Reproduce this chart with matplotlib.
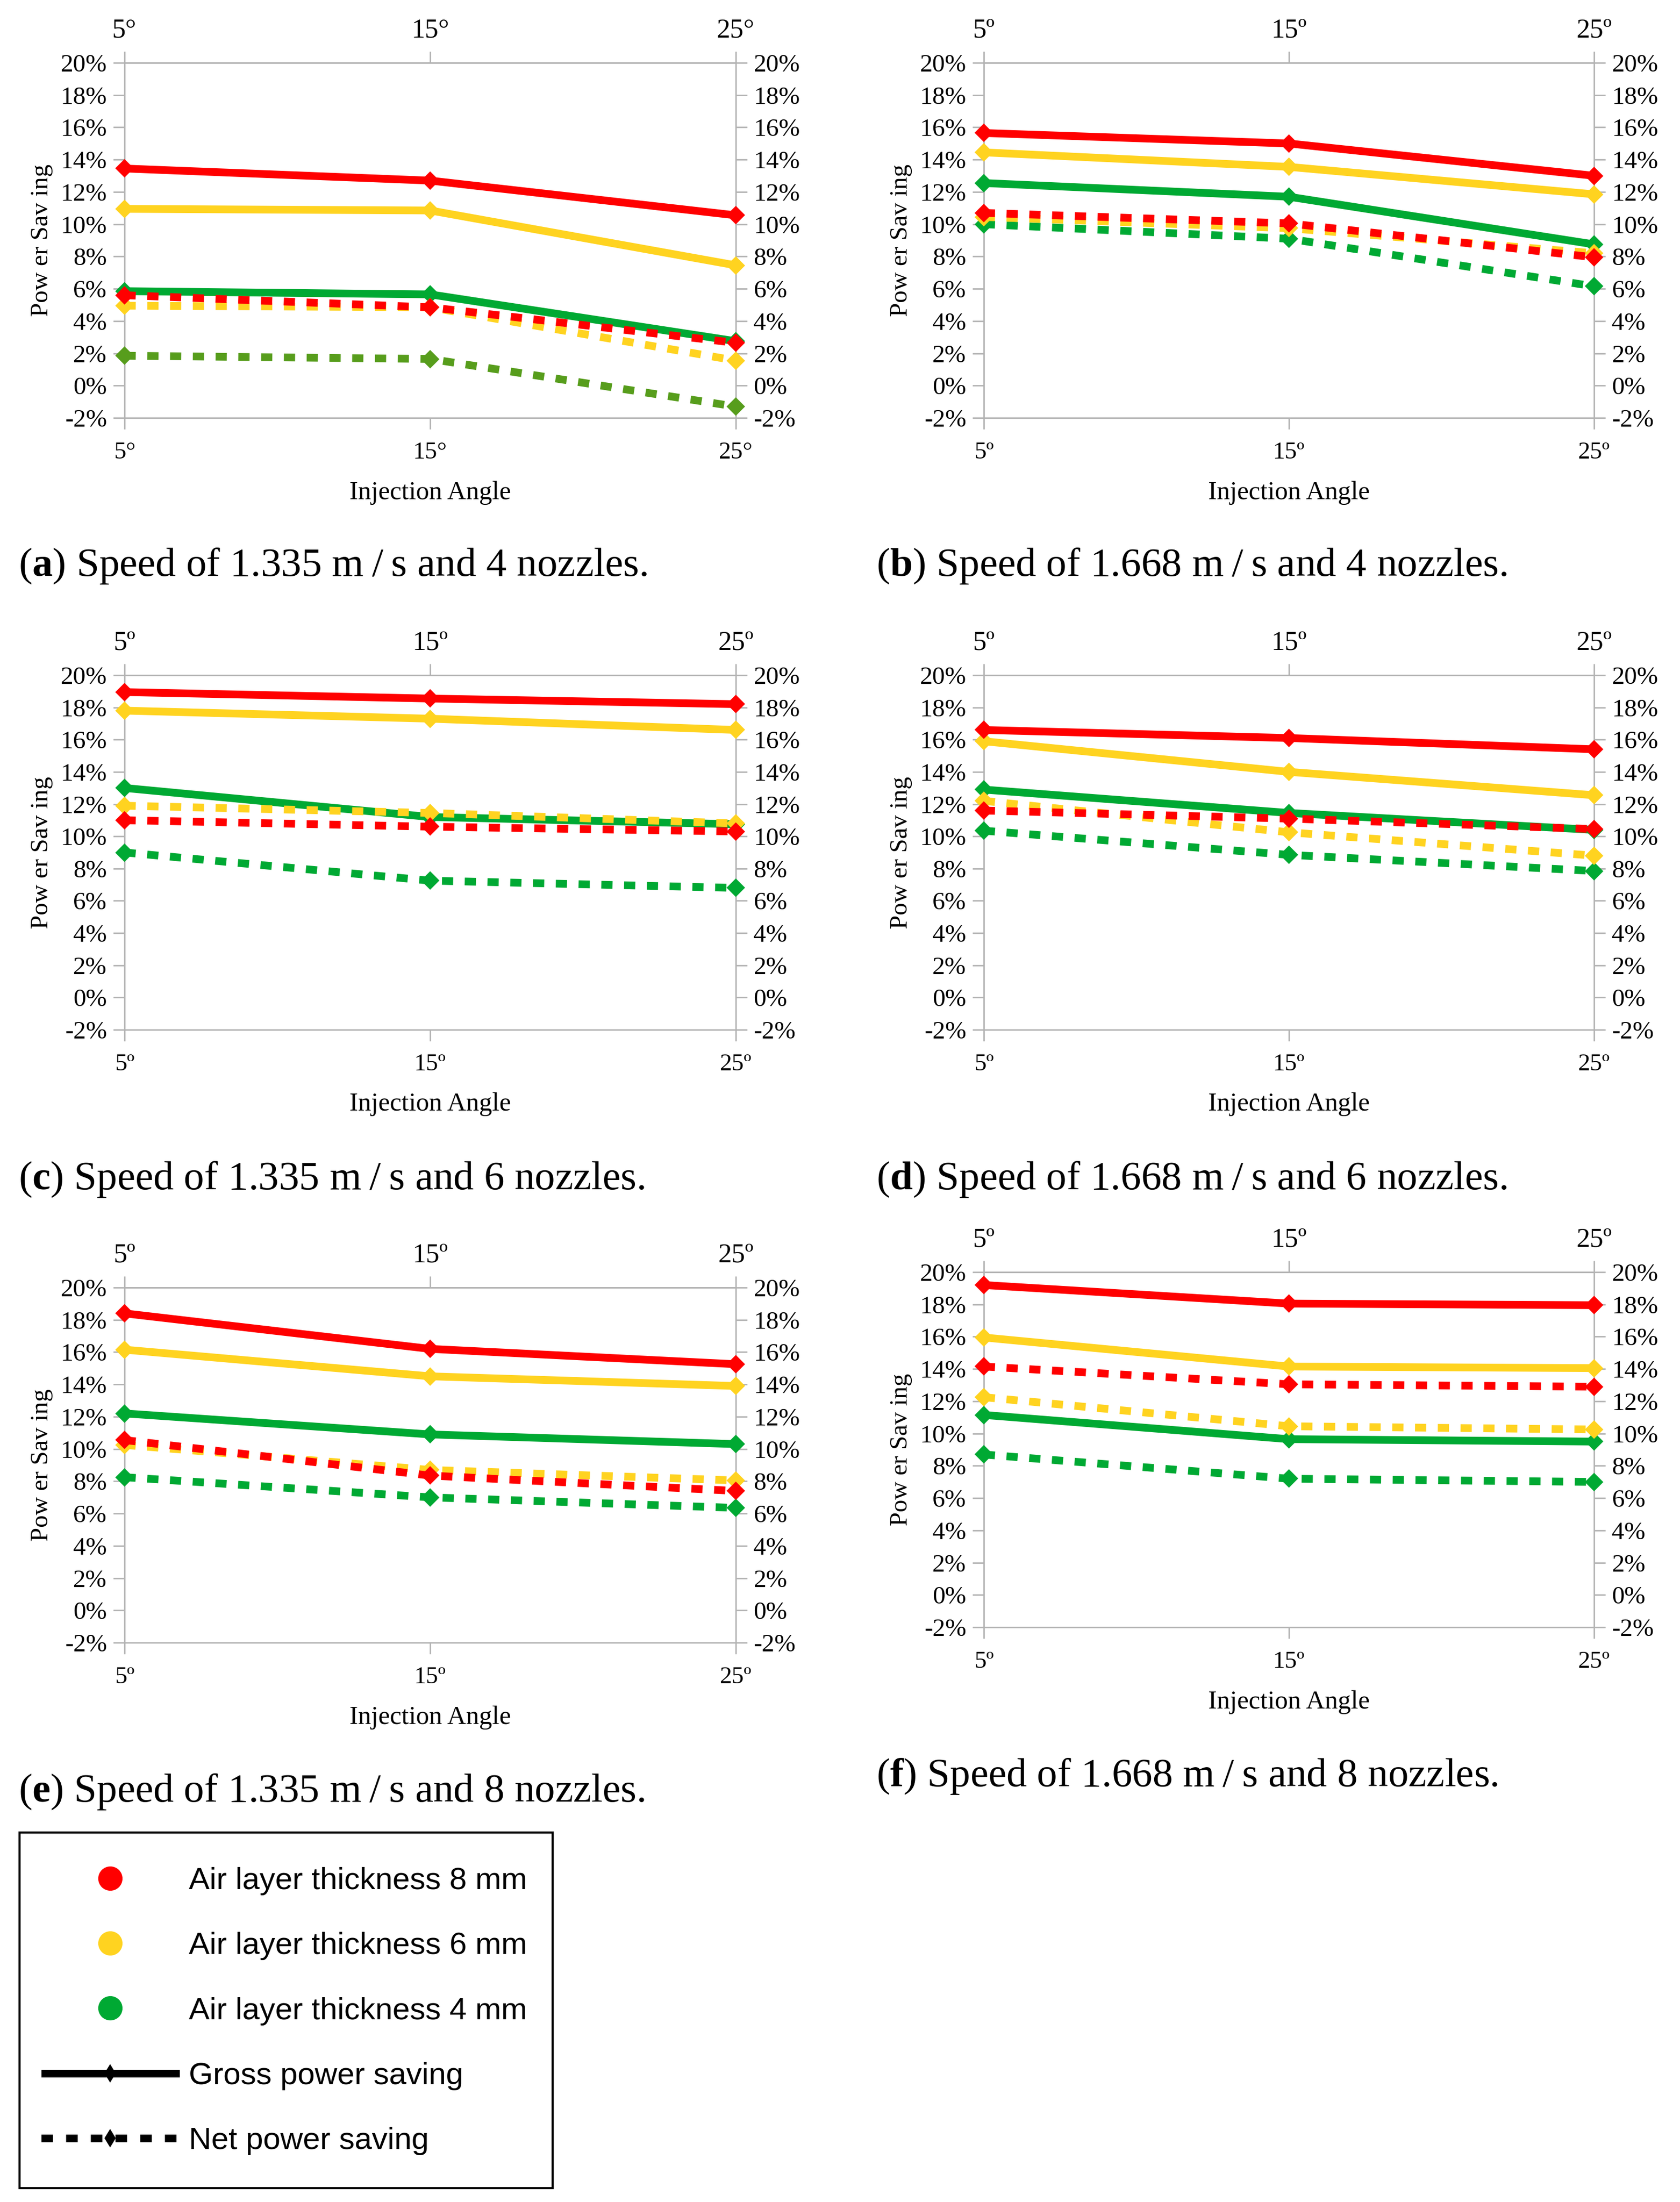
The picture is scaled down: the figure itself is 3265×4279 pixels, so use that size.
import matplotlib
matplotlib.use('Agg')
import matplotlib.pyplot as plt
from matplotlib.lines import Line2D
from matplotlib.patches import Rectangle

# ---------------- data ----------------
angles = [5, 15, 25]
ytick_values = [-2, 0, 2, 4, 6, 8, 10, 12, 14, 16, 18, 20]
ytick_labels = ['-2%', '0%', '2%', '4%', '6%', '8%', '10%', '12%', '14%', '16%', '18%', '20%']
xtick_labels_deg = ['5°', '15°', '25°']
xtick_labels_ord = ['5º', '15º', '25º']

# (a) 1.335 m/s, 4 nozzles
a_gross_8 = [13.45, 12.70, 10.55]
a_gross_6 = [10.95, 10.85, 7.45]
a_gross_4 = [5.85, 5.65, 2.75]
a_net_8 = [5.60, 4.85, 2.65]
a_net_6 = [4.95, 4.85, 1.55]
a_net_4 = [1.85, 1.65, -1.30]
# (b) 1.668 m/s, 4 nozzles
b_gross_8 = [15.65, 15.00, 13.00]
b_gross_6 = [14.45, 13.55, 11.85]
b_gross_4 = [12.55, 11.70, 8.75]
b_net_8 = [10.70, 10.05, 7.95]
b_net_6 = [10.45, 9.75, 8.20]
b_net_4 = [10.00, 9.10, 6.15]
# (c) 1.335 m/s, 6 nozzles
c_gross_8 = [18.95, 18.55, 18.20]
c_gross_6 = [17.80, 17.30, 16.60]
c_gross_4 = [13.00, 11.20, 10.75]
c_net_8 = [11.00, 10.60, 10.30]
c_net_6 = [11.90, 11.45, 10.80]
c_net_4 = [9.00, 7.25, 6.80]
# (d) 1.668 m/s, 6 nozzles
d_gross_8 = [16.60, 16.10, 15.40]
d_gross_6 = [15.90, 14.00, 12.55]
d_gross_4 = [12.90, 11.45, 10.40]
d_net_8 = [11.60, 11.10, 10.45]
d_net_6 = [12.20, 10.25, 8.80]
d_net_4 = [10.35, 8.85, 7.85]
# (e) 1.335 m/s, 8 nozzles
e_gross_8 = [18.40, 16.20, 15.25]
e_gross_6 = [16.15, 14.50, 13.90]
e_gross_4 = [12.20, 10.90, 10.30]
e_net_8 = [10.55, 8.35, 7.40]
e_net_6 = [10.25, 8.70, 8.05]
e_net_4 = [8.25, 7.00, 6.35]
# (f) 1.668 m/s, 8 nozzles
f_gross_8 = [19.20, 18.05, 17.95]
f_gross_6 = [15.95, 14.15, 14.05]
f_gross_4 = [11.15, 9.65, 9.50]
f_net_8 = [14.15, 13.05, 12.90]
f_net_6 = [12.25, 10.45, 10.25]
f_net_4 = [8.70, 7.20, 7.00]

panel_letters = ['a', 'b', 'c', 'd', 'e', 'f']
panel_speeds = ['1.335', '1.668', '1.335', '1.668', '1.335', '1.668']
panel_nozzles = ['4', '4', '6', '6', '8', '8']
legend_labels = ['Air layer thickness 8 mm', 'Air layer thickness 6 mm',
                 'Air layer thickness 4 mm', 'Gross power saving', 'Net power saving']
ylabel_text = 'Pow er Sav ing'
xlabel_text = 'Injection Angle'

# ---------------- style ----------------
W, H, DPI = 3266, 4279, 100
RED, YEL, GRN, OLIVE = '#FF0000', '#FFD320', '#00A933', '#579D1C'
GRAY = '#B3B3B3'
LW = 10.8           # ~15 px
MS = 18
DASH = (0, (1.45, 1.5))
TL, TW = 15.8, 2.0

plt.rcParams['font.family'] = ['Liberation Serif', 'DejaVu Serif']
plt.rcParams['mathtext.fontset'] = 'custom'
plt.rcParams['mathtext.rm'] = 'Liberation Serif'
plt.rcParams['mathtext.bf'] = 'Liberation Serif:bold'

fig = plt.figure(figsize=(W / DPI, H / DPI), dpi=DPI, facecolor='white')


def rect(x0, x1, yt, yb):
    return [x0 / W, 1 - yb / H, (x1 - x0) / W, (yb - yt) / H]


panels = [
    dict(box=(242, 1430, 122, 812), cap=(36, 1119), deg=xtick_labels_deg,
         gross=(a_gross_4, a_gross_6, a_gross_8), net=(a_net_4, a_net_6, a_net_8), net4=OLIVE),
    dict(box=(1912, 3098, 122, 812), cap=(1703, 1119), deg=xtick_labels_ord,
         gross=(b_gross_4, b_gross_6, b_gross_8), net=(b_net_4, b_net_6, b_net_8), net4=GRN),
    dict(box=(242, 1430, 1312, 2001), cap=(36, 2311), deg=xtick_labels_ord,
         gross=(c_gross_4, c_gross_6, c_gross_8), net=(c_net_4, c_net_6, c_net_8), net4=GRN),
    dict(box=(1912, 3098, 1312, 2001), cap=(1703, 2311), deg=xtick_labels_ord,
         gross=(d_gross_4, d_gross_6, d_gross_8), net=(d_net_4, d_net_6, d_net_8), net4=GRN),
    dict(box=(242, 1430, 2502, 3192), cap=(36, 3501), deg=xtick_labels_ord,
         gross=(e_gross_4, e_gross_6, e_gross_8), net=(e_net_4, e_net_6, e_net_8), net4=GRN),
    dict(box=(1912, 3098, 2472, 3162), cap=(1703, 3471), deg=xtick_labels_ord,
         gross=(f_gross_4, f_gross_6, f_gross_8), net=(f_net_4, f_net_6, f_net_8), net4=GRN),
]

for i, p in enumerate(panels):
    ax = fig.add_axes(rect(*p['box']))
    z = 3
    for vals, col in zip(p['gross'], (GRN, YEL, RED)):
        ax.plot(angles, vals, color=col, lw=LW, ls='-', marker='D', ms=MS, mew=0,
                clip_on=False, solid_capstyle='butt', zorder=z)
        z += 1
    for vals, col in zip(p['net'], (p['net4'], YEL, RED)):
        ax.plot(angles, vals, color=col, lw=LW, ls=DASH, marker='D', ms=MS, mew=0,
                clip_on=False, dash_capstyle='butt', zorder=z)
        z += 1

    ax.set_xlim(5, 25)
    ax.set_ylim(-2, 20)
    ax.set_yticks(ytick_values, ytick_labels)
    ax.set_xticks(angles, p['deg'])
    for s in ax.spines.values():
        s.set_color(GRAY)
        s.set_linewidth(TW)
    ax.tick_params(axis='y', direction='out', length=TL, width=TW, color=GRAY,
                   left=True, right=True, labelleft=True, labelright=True,
                   pad=9, labelsize=35.5)
    ax.tick_params(axis='x', direction='out', length=TL, width=TW, color=GRAY,
                   bottom=True, top=False, labelbottom=True, pad=18, labelsize=34)
    sec = ax.secondary_xaxis('top')
    sec.set_xticks(angles, p['deg'])
    sec.spines['top'].set_color(GRAY)
    sec.spines['top'].set_linewidth(TW)
    sec.tick_params(axis='x', direction='out', length=TL, width=TW, color=GRAY,
                    pad=12, labelsize=38)

    ax.set_ylabel(ylabel_text, fontsize=35)
    ax.yaxis.set_label_coords(-0.117, 0.5)
    ax.set_xlabel(xlabel_text, fontsize=36.5)
    ax.xaxis.set_label_coords(0.5, -0.177)

    cx, cy = p['cap']
    fig.text(cx / W, 1 - cy / H,
             '($\\mathbf{' + panel_letters[i] + '}$) Speed of ' + panel_speeds[i]
             + ' m\u2009/\u2009s and ' + panel_nozzles[i] + ' nozzles.',
             fontsize=57, ha='left', va='baseline')

# ---------------- legend ----------------
handles = [Line2D([], [], ls='none', marker='o', ms=34, mew=0, color=c) for c in (RED, YEL, GRN)]
handles.append(Line2D([], [], color='black', lw=LW, ls='-', marker='d', ms=MS, mew=0,
                      solid_capstyle='butt'))
handles.append(Line2D([], [], color='black', lw=LW, ls=(0, (1.5, 1.7)), marker='d', ms=MS,
                      mew=0, dash_capstyle='butt'))
leg = fig.legend(handles, legend_labels, loc='upper left',
                 bbox_to_anchor=(80 / W, 1 - 3628 / H), bbox_transform=fig.transFigure,
                 borderaxespad=0, frameon=False,
                 prop={'family': 'Liberation Sans', 'size': 43.5},
                 handlelength=4.45, handletextpad=0.3, borderpad=0,
                 labelspacing=1.18, numpoints=1)
# legend frame box
fig.patches.append(Rectangle((38 / W, 1 - 4252 / H), (1074 - 38) / W, (4252 - 3561) / H,
                             transform=fig.transFigure, fill=False, edgecolor='black',
                             linewidth=3, zorder=10))

fig.savefig('out.png', dpi=DPI, facecolor='white')
